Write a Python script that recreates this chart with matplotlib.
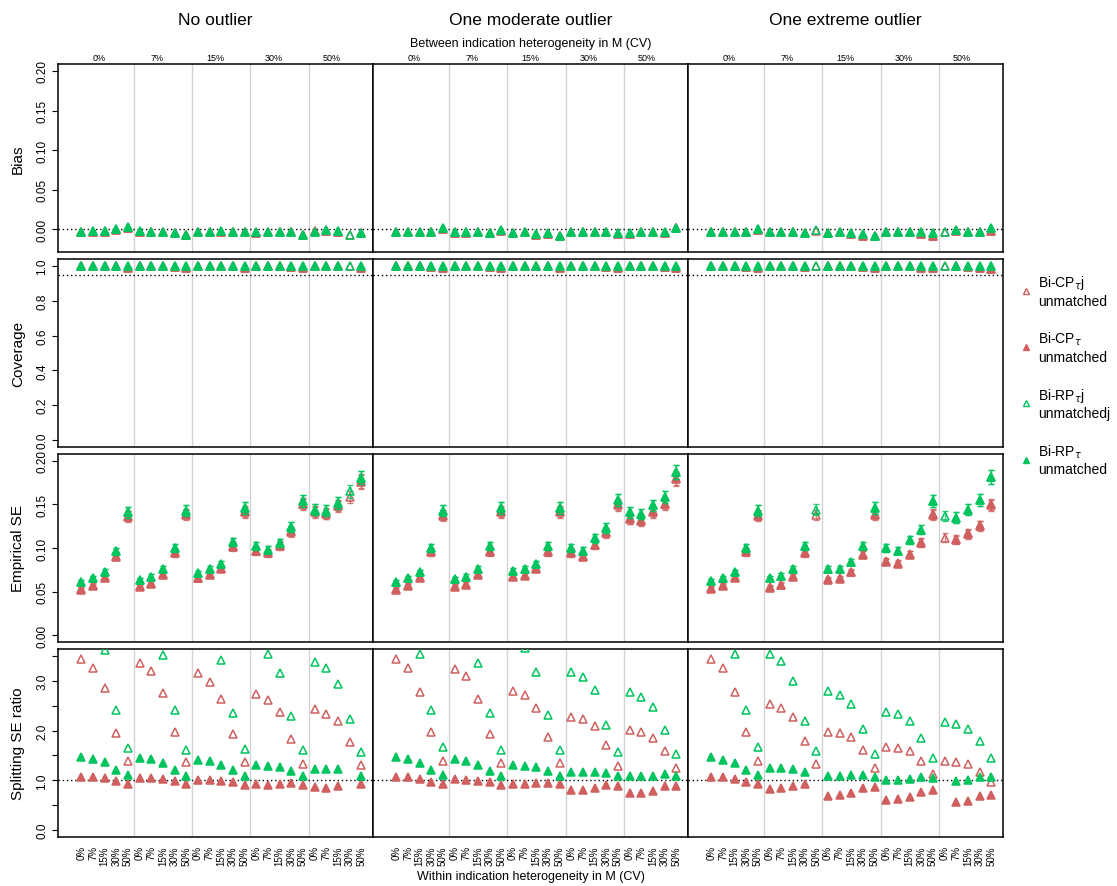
import numpy as np
import matplotlib
matplotlib.use("Agg")
import matplotlib.pyplot as plt
from matplotlib.lines import Line2D

plt.rcParams['font.family'] = ['Liberation Sans', 'DejaVu Sans']
plt.rcParams['mathtext.fontset'] = 'dejavusans'

nan = np.nan

# labels
scenarios = ["No outlier", "One moderate outlier", "One extreme outlier"]
between_cv = ["0%", "7%", "15%", "30%", "50%"]
within_cv = ["0%", "7%", "15%", "30%", "50%"]
metrics = ["Bias", "Coverage", "Empirical SE", "Splitting SE ratio"]
method_labels = ["Bi-CP$_{\\tau}$j\nunmatched", "Bi-CP$_{\\tau}$\nunmatched",
                 "Bi-RP$_{\\tau}$j\nunmatchedj", "Bi-RP$_{\\tau}$\nunmatched"]
nsim = 1000  # used for monte carlo CI of empirical SE

# ---- bias (one list per outlier scenario, 25 = 5 between x 5 within) ----
bias_cp_tj = [
    [-0.004,-0.003,-0.003,-0.001,0.002,-0.003,-0.003,-0.003,-0.005,-0.007,-0.003,-0.003,-0.003,-0.004,-0.004,-0.005,-0.004,-0.004,-0.003,-0.007,-0.002,-0.002,-0.003,-0.007,-0.005],
    [-0.004,-0.004,-0.003,-0.004,0.000,-0.005,-0.005,-0.003,-0.005,-0.002,-0.005,-0.003,-0.007,-0.006,-0.009,-0.003,-0.003,-0.003,-0.003,-0.006,-0.006,-0.004,-0.004,-0.005,0.001],
    [-0.004,-0.004,-0.003,-0.004,-0.001,-0.003,-0.004,-0.003,-0.005,-0.002,-0.005,-0.003,-0.006,-0.008,-0.009,-0.003,-0.003,-0.004,-0.006,-0.008,-0.004,-0.002,-0.003,-0.004,-0.002]]
bias_cp_t = [
    [-0.004,-0.003,-0.003,-0.001,0.002,-0.003,-0.003,-0.003,-0.005,-0.007,-0.003,-0.003,-0.003,-0.004,-0.004,-0.005,-0.004,-0.004,-0.003,-0.007,-0.002,-0.002,-0.003,nan,-0.005],
    [-0.004,-0.004,-0.003,-0.004,0.000,-0.005,-0.005,-0.003,-0.005,-0.002,-0.005,-0.003,-0.007,-0.006,-0.009,-0.003,-0.003,-0.003,-0.003,-0.006,-0.006,-0.004,-0.004,-0.005,0.001],
    [-0.004,-0.004,-0.003,-0.004,-0.001,-0.003,-0.004,-0.003,-0.005,nan,-0.005,-0.003,-0.006,-0.008,-0.009,-0.003,-0.003,-0.004,-0.006,-0.008,nan,-0.002,-0.003,-0.004,-0.002]]
bias_rp_tj = [
    [-0.004,-0.002,-0.002,0.000,0.003,-0.002,-0.003,-0.003,-0.005,-0.007,-0.003,-0.003,-0.002,-0.004,-0.003,-0.003,-0.004,-0.004,-0.003,-0.007,-0.003,-0.001,-0.002,-0.007,-0.005],
    [-0.004,-0.004,-0.003,-0.004,0.001,-0.004,-0.004,-0.003,-0.005,-0.001,-0.005,-0.003,-0.006,-0.005,-0.008,-0.003,-0.003,-0.003,-0.003,-0.005,-0.005,-0.003,-0.003,-0.004,0.002],
    [-0.004,-0.004,-0.003,-0.004,0.000,-0.003,-0.004,-0.003,-0.005,-0.001,-0.005,-0.003,-0.005,-0.006,-0.008,-0.003,-0.003,-0.003,-0.004,-0.005,-0.003,-0.001,-0.003,-0.003,0.002]]
bias_rp_t = [
    [-0.004,-0.002,-0.002,0.000,0.003,-0.002,-0.003,-0.003,-0.005,-0.007,-0.003,-0.003,-0.002,-0.004,-0.003,-0.003,-0.004,-0.004,-0.003,-0.007,-0.003,-0.001,-0.002,nan,-0.005],
    [-0.004,-0.004,-0.003,-0.004,0.001,-0.004,-0.004,-0.003,-0.005,-0.001,-0.005,-0.003,-0.006,-0.005,-0.008,-0.003,-0.003,-0.003,-0.003,-0.005,-0.005,-0.003,-0.003,-0.004,0.002],
    [-0.004,-0.004,-0.003,-0.004,0.000,-0.003,-0.004,-0.003,-0.005,nan,-0.005,-0.003,-0.005,-0.006,-0.008,-0.003,-0.003,-0.003,-0.004,-0.005,nan,-0.001,-0.003,-0.003,0.002]]

# ---- coverage ----
cov_cp_tj = [
    [0.999,0.999,0.999,0.998,0.989,0.999,0.999,0.998,0.995,0.988,0.999,0.999,0.999,0.998,0.987,0.999,0.999,0.998,0.995,0.989,0.999,0.999,0.998,0.998,0.988],
    [0.999,0.999,0.999,0.992,0.990,0.999,0.999,0.999,0.996,0.989,0.999,0.999,0.998,0.997,0.989,0.999,0.999,0.998,0.995,0.990,0.998,0.998,0.998,0.992,0.989],
    [0.999,0.999,0.999,0.992,0.990,0.999,0.999,0.999,0.996,0.998,0.999,0.999,0.998,0.992,0.989,0.999,0.998,0.997,0.990,0.988,0.998,0.998,0.996,0.990,0.982]]
cov_cp_t = [
    [0.999,0.999,0.999,0.998,0.989,0.999,0.999,0.998,0.995,0.988,0.999,0.999,0.999,0.998,0.987,0.999,0.999,0.998,0.995,0.989,0.999,0.999,0.998,nan,0.988],
    [0.999,0.999,0.999,0.992,0.990,0.999,0.999,0.999,0.996,0.989,0.999,0.999,0.998,0.997,0.989,0.999,0.999,0.998,0.995,0.990,0.998,0.998,0.998,0.992,0.989],
    [0.999,0.999,0.999,0.992,0.990,0.999,0.999,0.999,0.996,nan,0.999,0.999,0.998,0.992,0.989,0.999,0.998,0.997,0.990,0.988,nan,0.998,0.996,0.990,0.982]]
cov_rp_tj = [
    [1.0,1.0,1.0,1.0,1.0,1.0,1.0,1.0,1.0,1.0,1.0,1.0,1.0,1.0,1.0,1.0,1.0,1.0,1.0,1.0,1.0,1.0,1.0,0.999,1.0],
    [1.0,1.0,1.0,1.0,1.0,1.0,1.0,1.0,1.0,1.0,1.0,1.0,1.0,1.0,1.0,1.0,1.0,1.0,1.0,1.0,1.0,1.0,1.0,1.0,1.0],
    [1.0,1.0,1.0,1.0,1.0,1.0,1.0,1.0,1.0,0.999,1.0,1.0,1.0,1.0,1.0,1.0,1.0,1.0,1.0,1.0,0.999,1.0,1.0,1.0,1.0]]
cov_rp_t = [
    [1.0,1.0,1.0,1.0,1.0,1.0,1.0,1.0,1.0,1.0,1.0,1.0,1.0,1.0,1.0,1.0,1.0,1.0,1.0,1.0,1.0,1.0,1.0,nan,1.0],
    [1.0,1.0,1.0,1.0,1.0,1.0,1.0,1.0,1.0,1.0,1.0,1.0,1.0,1.0,1.0,1.0,1.0,1.0,1.0,1.0,1.0,1.0,1.0,1.0,1.0],
    [1.0,1.0,1.0,1.0,1.0,1.0,1.0,1.0,1.0,nan,1.0,1.0,1.0,1.0,1.0,1.0,1.0,1.0,1.0,1.0,nan,1.0,1.0,1.0,1.0]]

# ---- empirical SE ----
ese_cp_tj = [
    [0.053,0.057,0.067,0.091,0.137,0.056,0.060,0.070,0.095,0.139,0.066,0.070,0.077,0.102,0.142,0.097,0.095,0.103,0.119,0.151,0.142,0.140,0.149,0.159,0.177],
    [0.053,0.057,0.067,0.096,0.138,0.056,0.059,0.070,0.096,0.142,0.068,0.069,0.077,0.096,0.142,0.095,0.091,0.104,0.118,0.150,0.134,0.132,0.142,0.151,0.180],
    [0.054,0.057,0.067,0.096,0.138,0.055,0.058,0.068,0.095,0.138,0.064,0.065,0.073,0.093,0.139,0.085,0.083,0.093,0.107,0.139,0.112,0.110,0.117,0.126,0.150]]
ese_cp_t = [
    [0.052,0.056,0.066,0.090,0.136,0.055,0.059,0.069,0.094,0.138,0.065,0.069,0.076,0.101,0.141,0.096,0.094,0.102,0.118,0.150,0.141,0.139,0.148,nan,0.176],
    [0.052,0.056,0.066,0.095,0.137,0.055,0.058,0.069,0.095,0.141,0.067,0.068,0.076,0.095,0.141,0.094,0.090,0.103,0.117,0.149,0.133,0.131,0.141,0.150,0.179],
    [0.053,0.056,0.066,0.095,0.137,0.054,0.057,0.067,0.094,nan,0.063,0.064,0.072,0.092,0.138,0.084,0.082,0.092,0.106,0.138,nan,0.109,0.116,0.125,0.149]]
ese_rp_tj = [
    [0.061,0.065,0.073,0.096,0.141,0.063,0.067,0.076,0.100,0.143,0.071,0.076,0.082,0.107,0.146,0.102,0.098,0.106,0.124,0.154,0.144,0.143,0.152,0.165,0.181],
    [0.061,0.065,0.072,0.100,0.143,0.064,0.067,0.076,0.102,0.146,0.074,0.076,0.082,0.102,0.146,0.100,0.097,0.111,0.123,0.155,0.141,0.139,0.149,0.159,0.187],
    [0.062,0.065,0.072,0.100,0.143,0.065,0.068,0.076,0.102,0.144,0.076,0.076,0.084,0.102,0.146,0.100,0.097,0.109,0.121,0.154,0.137,0.135,0.144,0.155,0.182]]
ese_rp_t = [
    [0.061,0.065,0.073,0.096,0.141,0.063,0.067,0.076,0.100,0.143,0.071,0.076,0.082,0.107,0.146,0.102,0.098,0.106,0.124,0.154,0.144,0.143,0.152,nan,0.181],
    [0.061,0.065,0.072,0.100,0.143,0.064,0.067,0.076,0.102,0.146,0.074,0.076,0.082,0.102,0.146,0.100,0.097,0.111,0.123,0.155,0.141,0.139,0.149,0.159,0.187],
    [0.062,0.065,0.072,0.100,0.143,0.065,0.068,0.076,0.102,nan,0.076,0.076,0.084,0.102,0.146,0.100,0.097,0.109,0.121,0.154,nan,0.135,0.144,0.155,0.182]]

# ---- splitting SE ratio ----
ratio_cp_tj = [
    [3.44,3.25,2.86,1.95,1.39,3.35,3.20,2.76,1.98,1.36,3.16,2.98,2.63,1.94,1.36,2.74,2.61,2.37,1.84,1.33,2.43,2.34,2.20,1.77,1.30],
    [3.44,3.25,2.78,1.97,1.39,3.24,3.09,2.64,1.94,1.35,2.79,2.71,2.46,1.87,1.35,2.28,2.23,2.09,1.70,1.29,2.01,1.98,1.85,1.59,1.25],
    [3.44,3.25,2.78,1.97,1.39,2.54,2.46,2.27,1.80,1.33,1.98,1.96,1.87,1.60,1.25,1.67,1.65,1.58,1.38,1.13,1.38,1.36,1.32,1.17,0.96]]
ratio_cp_t = [
    [1.06,1.06,1.04,0.98,0.92,1.05,1.04,1.02,0.98,0.92,1.01,1.00,0.98,0.97,0.91,0.92,0.91,0.92,0.94,0.91,0.86,0.85,0.89,nan,0.92],
    [1.06,1.06,1.02,0.97,0.92,1.02,1.01,0.99,0.97,0.90,0.92,0.92,0.94,0.94,0.92,0.80,0.80,0.84,0.90,0.89,0.74,0.74,0.78,0.88,0.88],
    [1.06,1.06,1.02,0.97,0.92,0.83,0.85,0.89,0.93,nan,0.69,0.70,0.75,0.84,0.86,0.60,0.62,0.66,0.76,0.80,nan,0.56,0.59,0.68,0.71]]
ratio_rp_tj = [
    [3.95,3.85,3.62,2.42,1.65,3.90,3.80,3.52,2.42,1.61,3.90,3.80,3.42,2.36,1.63,3.80,3.54,3.15,2.29,1.60,3.37,3.25,2.93,2.24,1.57],
    [3.85,3.75,3.54,2.41,1.66,3.90,3.80,3.36,2.35,1.61,3.90,3.66,3.18,2.31,1.61,3.18,3.07,2.81,2.12,1.56,2.78,2.68,2.48,2.02,1.53],
    [3.85,3.75,3.54,2.41,1.66,3.54,3.39,3.00,2.20,1.58,2.79,2.72,2.53,2.04,1.52,2.37,2.33,2.20,1.85,1.45,2.17,2.14,2.04,1.79,1.45]]
ratio_rp_t = [
    [1.46,1.43,1.36,1.20,1.10,1.44,1.42,1.34,1.21,1.09,1.40,1.38,1.31,1.20,1.09,1.30,1.29,1.27,1.19,1.09,1.23,1.23,1.22,nan,1.09],
    [1.46,1.42,1.35,1.21,1.10,1.42,1.38,1.31,1.19,1.09,1.31,1.29,1.27,1.18,1.09,1.17,1.17,1.17,1.14,1.08,1.08,1.08,1.09,1.12,1.08],
    [1.46,1.41,1.34,1.20,1.10,1.25,1.25,1.23,1.16,nan,1.08,1.09,1.10,1.10,1.07,1.00,1.00,1.03,1.06,1.05,nan,0.98,1.00,1.07,1.07]]

red = "#D05F5F"
green = "#00C45E"

# per metric: series (open/filled for each method), axis settings
rows = [
    ([bias_cp_tj, bias_cp_t, bias_rp_tj, bias_rp_t], (-0.02, 0.2), np.arange(0, 0.21, 0.05), ["0.00", "0.05", "0.10", "0.15", "0.20"], 0.0),
    ([cov_cp_tj, cov_cp_t, cov_rp_tj, cov_rp_t], (0, 1), np.arange(0, 1.01, 0.2), ["0.0", "0.2", "0.4", "0.6", "0.8", "1.0"], 0.95),
    ([ese_cp_tj, ese_cp_t, ese_rp_tj, ese_rp_t], (0, 0.2), np.arange(0, 0.21, 0.05), ["0.00", "0.05", "0.10", "0.15", "0.20"], None),
    ([ratio_cp_tj, ratio_cp_t, ratio_rp_tj, ratio_rp_t], (0, 3.5), np.arange(0, 3.6, 0.5), ["0.0", "", "1.0", "", "2.0", "", "3.0", ""], 1.0),
]
styles = [(red, "none"), (red, red), (green, "none"), (green, green)]

W, H = 1117, 887
fig = plt.figure(figsize=(W / 100, H / 100), dpi=100)
x = np.arange(1, 26)
col_left = [58, 373, 688]
row_top = [65, 260, 455, 650]
pw, ph = 315, 188

for r, (series, ylim, yt, ytl, refline) in enumerate(rows):
    for c in range(3):
        ax = fig.add_axes([col_left[c] / W, 1 - (row_top[r] + ph) / H, pw / W, ph / H])
        span = ylim[1] - ylim[0]
        ax.set_ylim(ylim[0] - 0.04 * span, ylim[1] + 0.04 * span)
        ax.set_xlim(-1, 26)
        for g in [5.5, 10.5, 15.5, 20.5]:
            ax.axvline(g, color="#D3D3D3", lw=1, zorder=0)
        if refline is not None:
            ax.axhline(refline, color="black", ls=(0, (1, 2)), lw=1, zorder=1)
        for k, s in enumerate(series):
            vals = np.array(s[c], dtype=float)
            col, fc = styles[k]
            if r == 2:
                half = 1.96 * vals / np.sqrt(2 * (nsim - 1))
                ax.errorbar(x, vals, yerr=half, fmt="none", ecolor=col, elinewidth=1,
                            capsize=2.5, capthick=1, alpha=0.8, zorder=2 + k)
            ax.plot(x, vals, ls="none", marker="^", ms=6 if fc == "none" else 5.5,
                    mfc=fc, mec=col, mew=1.1, zorder=3 + k)
        for sp in ax.spines.values():
            sp.set_linewidth(1.1)
        if c == 0:
            ax.set_yticks(yt)
            ax.set_yticklabels(ytl, rotation=90, va="center", fontsize=8.5)
            ax.tick_params(axis="y", length=4, pad=3)
            ax.set_ylabel(metrics[r], fontsize=11)
            ax.yaxis.set_label_coords(-0.105, 0.5)
        else:
            ax.set_yticks([])
        if r == 3:
            ax.set_xticks(x)
            ax.set_xticklabels(within_cv * 5, rotation=90, fontsize=7, va="top")
            ax.tick_params(axis="x", length=0, pad=6)
            if c == 1:
                ax.text(0.5, -0.21, "Within indication heterogeneity in M (CV)",
                        transform=ax.transAxes, ha="center", va="center", fontsize=9)
        else:
            ax.set_xticks([])
        if r == 0:
            for j, lab in enumerate(between_cv):
                ax.text(2.5 + 5 * j, 1.037, lab, transform=ax.get_xaxis_transform(),
                        ha="center", va="center", fontsize=6.5)
            ax.text(0.5, 1.235, scenarios[c], transform=ax.transAxes,
                    ha="center", va="center", fontsize=12.5)
            if c == 1:
                ax.text(0.5, 1.11, "Between indication heterogeneity in M (CV)",
                        transform=ax.transAxes, ha="center", va="center", fontsize=9)

handles = [Line2D([], [], ls="none", marker="^", ms=4.5, mfc=fc, mec=col, mew=1)
           for col, fc in styles]
fig.legend(handles, method_labels, loc="upper left",
           bbox_to_anchor=(1008 / W, 1 - 262 / H), frameon=False, fontsize=10,
           labelspacing=1.6, handlelength=0.8, handletextpad=0.45)

fig.savefig("out.png", dpi=100)
